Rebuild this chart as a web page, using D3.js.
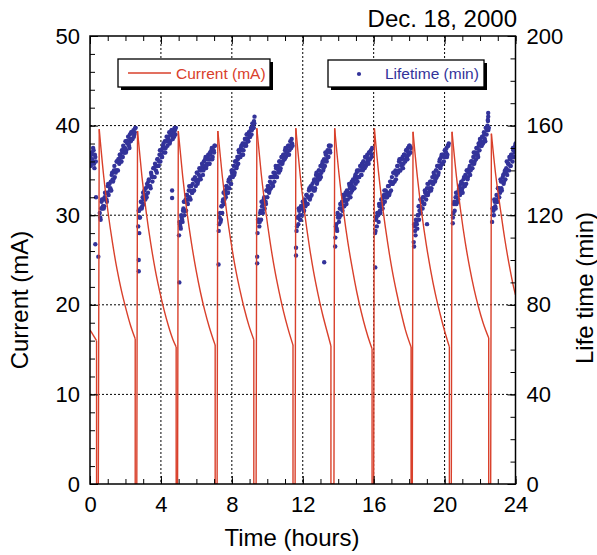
<!DOCTYPE html>
<html>
<head>
<meta charset="utf-8">
<script src="https://cdn.jsdelivr.net/npm/d3@7"></script>
<style>
  body { margin: 0; background: #fff; }
  svg { display: block; }
  text { font-family: "Liberation Sans", Arial, Helvetica, sans-serif; }
</style>
</head>
<body>
<svg id="chart" width="597" height="555"></svg>
<script>
// ---- axis ticks ----
const timeTicks = [0, 4, 8, 12, 16, 20, 24];
const currentTicks = [0, 10, 20, 30, 40, 50];
const lifetimeTicks = [0, 40, 80, 120, 160, 200];

// ---- beam current (mA): dumps, refills and decays ----
const startCurrent = [0, 17.2];                 // [hour, mA] at the left edge
const dumpTime    = [0.37, 2.55, 4.86, 7.06, 9.24, 11.45, 13.59, 15.91, 18.11, 20.27, 22.49];
const dumpCurrent = [16.0, 16.2, 15.3, 15.5, 16.1, 15.5, 15.4, 15.1, 15.3, 15.3, 16.3];
const fillTime    = [0.47, 2.64, 4.94, 7.17, 9.37, 11.57, 13.76, 16.00, 18.18, 20.38, 22.60];
const peakTime    = [0.52, 2.68, 4.98, 7.21, 9.41, 11.61, 13.80, 16.04, 18.22, 20.42, 22.64];
const peakCurrent = [39.6, 39.4, 39.4, 39.4, 39.7, 39.7, 39.7, 39.7, 39.3, 39.3, 39.1];
const decayStep = 0.25;                          // hours between decay readings after each peak
const decay0  = [34.4, 30.3, 26.9, 24.0, 21.6, 19.6, 17.8];
const decay1  = [34.3, 30.2, 26.8, 23.9, 21.5, 19.4, 17.6, 16.1];
const decay2  = [34.3, 30.2, 26.8, 23.9, 21.4, 19.3, 17.5];
const decay3  = [34.4, 30.3, 26.9, 24.0, 21.6, 19.5, 17.7];
const decay4  = [34.6, 30.5, 27.0, 24.0, 21.5, 19.3, 17.4];
const decay5  = [34.4, 30.2, 26.7, 23.7, 21.2, 19.0, 17.1];
const decay6  = [34.5, 30.4, 26.9, 24.0, 21.4, 19.2, 17.3, 15.7];
const decay7  = [34.5, 30.4, 26.9, 23.9, 21.4, 19.2, 17.2];
const decay8  = [34.2, 30.1, 26.7, 23.8, 21.3, 19.2, 17.3];
const decay9  = [34.3, 30.3, 26.9, 24.1, 21.7, 19.7, 18.0];
const decay10 = [34.4, 30.8, 27.4, 24.5, 22.0];
const endCurrent = [24, 21.1];                   // [hour, mA] at the right edge

// ---- beam lifetime (min) ----
// Readings every 3 minutes from the start of each fill; the "b" runs are the
// readings taken 1.5 minutes after those.
const lifeStep = 0.05;
const lifeHalfStep = 0.025;
const lifeStart = [0.00, 0.55, 2.72, 5.02, 7.26, 9.45, 11.65, 13.84, 16.08, 18.26, 20.47, 22.68];
const lifeRunA = [146, 142, 148, 144, 149, 141, 146];
const lifeRun0 = [121, 118, 126, 123, 127, 124, 130, 127, 126, 133, 129, 134, 132, 131, 139, 135, 140, 137, 139, 144, 140, 145, 143, 147, 144, 149, 146, 150, 148, 153, 149, 152, 155, 151, 156, 153, 157, 154, 158, 156, 159];
const lifeRun1 = [115, 122, 119, 126, 123, 128, 125, 131, 127, 129, 134, 130, 136, 133, 132, 138, 135, 141, 137, 143, 140, 139, 145, 142, 147, 144, 149, 146, 151, 148, 153, 150, 155, 151, 154, 157, 153, 156, 158, 154, 157, 159, 156];
const lifeRun2 = [111, 116, 114, 119, 117, 123, 120, 126, 122, 129, 125, 131, 128, 127, 133, 130, 136, 131, 137, 133, 139, 134, 136, 141, 137, 140, 143, 138, 144, 141, 146, 142, 145, 147, 143, 148, 145, 150, 146, 149, 151];
const lifeRun3 = [113, 119, 117, 124, 121, 127, 125, 131, 128, 133, 130, 135, 132, 137, 134, 139, 137, 142, 139, 144, 141, 146, 143, 148, 146, 150, 147, 152, 149, 151, 154, 151, 156, 153, 157, 155, 158, 156, 161, 159];
const lifeRun4 = [112, 117, 115, 121, 118, 124, 121, 127, 123, 126, 131, 128, 133, 130, 135, 132, 137, 134, 139, 135, 138, 141, 137, 142, 139, 144, 141, 146, 143, 147, 145, 149, 146, 150, 147, 151, 149, 153, 150, 152];
const lifeRun5 = [113, 119, 116, 122, 118, 124, 120, 126, 122, 127, 124, 129, 125, 128, 131, 127, 133, 129, 134, 131, 136, 132, 138, 134, 137, 140, 136, 142, 139, 143, 140, 145, 142, 147, 144, 149, 146, 151, 148];
const lifeRun6 = [110, 116, 113, 119, 117, 123, 120, 125, 122, 128, 124, 129, 126, 131, 127, 130, 133, 128, 134, 131, 136, 132, 137, 134, 139, 135, 140, 137, 142, 138, 143, 140, 144, 141, 146, 143, 147, 144, 148, 145, 149, 147];
const lifeRun7 = [112, 118, 115, 121, 117, 124, 121, 127, 123, 125, 129, 126, 131, 128, 130, 133, 129, 135, 131, 137, 134, 139, 135, 140, 138, 142, 139, 144, 140, 145, 142, 146, 143, 147, 144, 149, 146, 150, 147, 151, 148];
const lifeRun8 = [108, 115, 111, 117, 114, 120, 118, 124, 121, 126, 123, 128, 125, 130, 127, 132, 129, 134, 131, 135, 132, 137, 134, 138, 135, 140, 137, 142, 139, 144, 141, 146, 143, 147, 144, 149, 146, 150, 147, 151];
const lifeRun9 = [119, 125, 122, 128, 125, 130, 127, 132, 129, 134, 131, 130, 136, 133, 138, 134, 140, 137, 139, 142, 140, 144, 141, 146, 143, 148, 145, 150, 147, 152, 149, 153, 151, 155, 152, 157, 154, 159, 156, 160, 158];
const lifeRun10 = [117, 123, 120, 126, 123, 129, 126, 132, 128, 130, 135, 131, 137, 134, 139, 136, 141, 138, 143, 140, 145, 142, 147, 144, 149, 146, 151];
const lifeRunAb = [143, 147, 145, 150, 143, 147, 144];
const lifeRun0b = [119, 123, 127, 124, 123, 128, 130, 127, 130, 134, 134, 131, 135, 138, 136, 136, 142, 140, 140, 144, 140, 145, 147, 146, 144, 148, 151, 148, 150, 148, 153, 153, 152, 150, 154, 157, 154, 157, 155, 157, 159];
const lifeRun1b = [122, 119, 123, 126, 124, 130, 127, 129, 132, 128, 133, 135, 133, 133, 139, 137, 137, 141, 137, 142, 142, 145, 142, 144, 149, 147, 146, 150, 152, 150, 148, 153, 153, 155, 153, 152, 156, 158, 155, 156, 155, 158, 159];
const lifeRun2b = [117, 115, 120, 118, 122, 126, 122, 127, 129, 127, 127, 133, 131, 133, 130, 134, 131, 136, 136, 135, 139, 135, 138, 140, 136, 141, 142, 140, 142, 145, 141, 143, 146, 145, 143, 147, 149, 145, 149, 148, 151];
const lifeRun3b = [116, 121, 118, 124, 126, 130, 127, 129, 133, 132, 130, 136, 136, 134, 140, 138, 140, 138, 144, 144, 142, 145, 149, 146, 146, 151, 149, 147, 152, 154, 152, 156, 154, 153, 156, 155, 159, 158, 160, 159];
const lifeRun4b = [118, 118, 117, 122, 126, 122, 125, 128, 126, 125, 131, 133, 132, 131, 137, 134, 137, 133, 137, 139, 142, 137, 141, 140, 144, 140, 143, 146, 144, 147, 145, 150, 148, 148, 151, 147, 151, 151, 154, 151];
const lifeRun5b = [115, 119, 123, 120, 118, 124, 123, 126, 122, 126, 125, 129, 125, 128, 132, 128, 132, 132, 132, 135, 131, 136, 139, 135, 138, 140, 138, 137, 142, 144, 141, 144, 148, 145, 148, 146, 151, 149, 151];
const lifeRun6b = [115, 114, 121, 120, 119, 125, 123, 126, 129, 124, 127, 130, 125, 130, 129, 134, 132, 130, 135, 133, 135, 132, 138, 136, 140, 137, 137, 140, 142, 138, 141, 144, 142, 146, 142, 146, 145, 143, 148, 148, 146, 150];
const lifeRun7b = [113, 119, 121, 120, 125, 122, 125, 127, 123, 128, 131, 128, 129, 128, 133, 133, 130, 135, 134, 134, 139, 135, 139, 136, 139, 142, 140, 145, 140, 143, 145, 141, 147, 147, 145, 149, 145, 148, 151, 148, 150];
const lifeRun8b = [116, 113, 118, 116, 120, 124, 122, 127, 123, 126, 128, 125, 131, 130, 129, 134, 130, 132, 135, 131, 135, 134, 139, 137, 136, 140, 142, 138, 142, 145, 142, 147, 143, 147, 146, 149, 148, 146, 151, 152];
const lifeRun9b = [121, 126, 125, 130, 128, 126, 131, 133, 130, 135, 132, 134, 137, 133, 137, 140, 136, 139, 141, 138, 144, 144, 143, 148, 144, 147, 150, 148, 146, 151, 154, 152, 151, 155, 153, 156, 153, 159, 158, 162, 159];
const lifeRun10b = [123, 122, 127, 124, 127, 126, 132, 132, 131, 136, 132, 135, 138, 135, 140, 139, 144, 140, 143, 146, 142, 147, 146, 150, 149, 148, 152];
// scattered readings away from the main band: [hour, min]
const lifeOutliers = [
  [0.30, 107], [0.34, 128], [0.47, 101.5], [2.75, 100], [2.75, 95], [2.78, 112],
  [4.63, 131], [4.63, 127.7], [5.04, 90], [7.25, 98], [9.25, 162], [9.27, 161],
  [9.28, 164], [9.43, 101.5], [9.43, 98.5], [11.62, 105.5], [11.62, 102], [13.21, 99],
  [13.83, 106], [16.09, 96.7], [18.28, 106], [19.01, 116], [20.46, 116.4],
  [22.44, 162.5], [22.46, 164], [22.46, 165.6]
];

// ---- layout ----
const frame = { left: 90, right: 515.5, top: 36, bottom: 484 };
const red = "#d9402b";
const blue = "#33339a";

const svg = d3.select("#chart");
const x = d3.scaleLinear().domain([0, 24]).range([frame.left, frame.right]);
const yI = d3.scaleLinear().domain([0, 50]).range([frame.bottom, frame.top]);
const yL = d3.scaleLinear().domain([0, 200]).range([frame.bottom, frame.top]);

svg.append("defs").append("clipPath").attr("id", "plot-clip")
  .append("rect")
  .attr("x", frame.left).attr("y", frame.top)
  .attr("width", frame.right - frame.left).attr("height", frame.bottom - frame.top);

// dotted grid
const grid = svg.append("g").attr("stroke", "#000").attr("stroke-width", 1)
  .attr("stroke-dasharray", "2,2");
grid.selectAll("line.gx").data(timeTicks.slice(1, -1)).join("line")
  .attr("x1", d => x(d)).attr("x2", d => x(d))
  .attr("y1", frame.top).attr("y2", frame.bottom);
grid.selectAll("line.gy").data(currentTicks.slice(1, -1)).join("line")
  .attr("y1", d => yI(d)).attr("y2", d => yI(d))
  .attr("x1", frame.left).attr("x2", frame.right);

const plot = svg.append("g").attr("clip-path", "url(#plot-clip)");

// lifetime readings
const runs = [lifeRunA, lifeRun0, lifeRun1, lifeRun2, lifeRun3, lifeRun4, lifeRun5,
              lifeRun6, lifeRun7, lifeRun8, lifeRun9, lifeRun10];
const halfRuns = [lifeRunAb, lifeRun0b, lifeRun1b, lifeRun2b, lifeRun3b, lifeRun4b, lifeRun5b,
                  lifeRun6b, lifeRun7b, lifeRun8b, lifeRun9b, lifeRun10b];
const lifePoints = runs.flatMap((run, r) => run.map((v, i) => [lifeStart[r] + lifeStep * i, v]))
  .concat(halfRuns.flatMap((run, r) => run.map((v, i) => [lifeStart[r] + lifeHalfStep + lifeStep * i, v])))
  .concat(lifeOutliers);
plot.append("g").selectAll("circle").data(lifePoints).join("circle")
  .attr("cx", d => x(d[0])).attr("cy", d => yL(d[1])).attr("r", 2.2)
  .attr("fill", blue);

// beam current
const straight = d3.line().x(d => x(d[0])).y(d => yI(d[1]));
const smooth = d3.line().x(d => x(d[0])).y(d => yI(d[1])).curve(d3.curveMonotoneX);
const decays = [decay0, decay1, decay2, decay3, decay4, decay5, decay6, decay7, decay8, decay9, decay10];
const cur = plot.append("g").attr("fill", "none").attr("stroke", red)
  .attr("stroke-width", 1.4).attr("stroke-linejoin", "round");

cur.append("path").attr("d", straight([startCurrent, [dumpTime[0], dumpCurrent[0]]]));
decays.forEach((dec, k) => {
  // dump to zero, wait, refill to the peak
  cur.append("path").attr("d", straight([
    [dumpTime[k], dumpCurrent[k]], [dumpTime[k], 0],
    [fillTime[k], 0], [peakTime[k], peakCurrent[k]]
  ]));
  const end = k < decays.length - 1 ? [dumpTime[k + 1], dumpCurrent[k + 1]] : endCurrent;
  const pts = [[peakTime[k], peakCurrent[k]]]
    .concat(dec.map((c, j) => [peakTime[k] + decayStep * (j + 1), c]))
    .concat([end]);
  cur.append("path").attr("d", smooth(pts));
});

// axes with inward ticks
const tickFont = "22px";
function styleAxis(g) {
  g.select(".domain").remove();
  g.selectAll(".tick line").attr("stroke", "#000").attr("stroke-width", 1);
  g.selectAll(".tick text").attr("fill", "#000").style("font-size", tickFont)
    .style("font-family", '"Liberation Sans", Arial, sans-serif');
}
const hoursMinor = d3.range(0, 25, 1);
svg.append("g").attr("transform", `translate(0,${frame.bottom})`)
  .call(d3.axisBottom(x).tickValues(hoursMinor).tickSize(-5).tickFormat(""))
  .call(styleAxis);
svg.append("g").attr("transform", `translate(0,${frame.bottom})`)
  .call(d3.axisBottom(x).tickValues(timeTicks).tickSize(-8).tickPadding(12).tickFormat(d3.format("d")))
  .call(styleAxis);
svg.append("g").attr("transform", `translate(0,${frame.top})`)
  .call(d3.axisTop(x).tickValues(hoursMinor).tickSize(-5).tickFormat(""))
  .call(styleAxis);
svg.append("g").attr("transform", `translate(0,${frame.top})`)
  .call(d3.axisTop(x).tickValues(timeTicks).tickSize(-8).tickFormat(""))
  .call(styleAxis);

svg.append("g").attr("transform", `translate(${frame.left},0)`)
  .call(d3.axisLeft(yI).tickValues(d3.range(0, 51, 2)).tickSize(-5).tickFormat(""))
  .call(styleAxis);
svg.append("g").attr("transform", `translate(${frame.left},0)`)
  .call(d3.axisLeft(yI).tickValues(currentTicks).tickSize(-8).tickPadding(10).tickFormat(d3.format("d")))
  .call(styleAxis);
svg.append("g").attr("transform", `translate(${frame.right},0)`)
  .call(d3.axisRight(yL).tickValues(d3.range(0, 201, 10)).tickSize(-5).tickFormat(""))
  .call(styleAxis);
svg.append("g").attr("transform", `translate(${frame.right},0)`)
  .call(d3.axisRight(yL).tickValues(lifetimeTicks).tickSize(-8).tickPadding(11).tickFormat(d3.format("d")))
  .call(styleAxis);

// frame
svg.append("rect")
  .attr("x", frame.left).attr("y", frame.top)
  .attr("width", frame.right - frame.left).attr("height", frame.bottom - frame.top)
  .attr("fill", "none").attr("stroke", "#000").attr("stroke-width", 1.5);

// titles
svg.append("text").attr("x", 517).attr("y", 27).attr("text-anchor", "end")
  .style("font-size", "24px").attr("fill", "#000").text("Dec. 18, 2000");
svg.append("text").attr("x", 292).attr("y", 546).attr("text-anchor", "middle")
  .style("font-size", "24px").attr("fill", "#000").text("Time (hours)");
svg.append("text").attr("transform", "translate(28,300) rotate(-90)").attr("text-anchor", "middle")
  .style("font-size", "24px").attr("fill", "#000").text("Current (mA)");
svg.append("text").attr("transform", "translate(593,288) rotate(-90)").attr("text-anchor", "middle")
  .style("font-size", "24px").attr("fill", "#000").text("Life time (min)");

// legends with drop shadows
function legendBox(bx, by, bw, bh) {
  const g = svg.append("g");
  g.append("rect").attr("x", bx + 3).attr("y", by + 3).attr("width", bw).attr("height", bh).attr("fill", "#000");
  g.append("rect").attr("x", bx).attr("y", by).attr("width", bw).attr("height", bh)
    .attr("fill", "#fff").attr("stroke", "#000").attr("stroke-width", 1.3);
  return g;
}
const lg1 = legendBox(118, 59, 152, 28);
lg1.append("line").attr("x1", 128).attr("x2", 171).attr("y1", 73).attr("y2", 73)
  .attr("stroke", red).attr("stroke-width", 1.3);
lg1.append("text").attr("x", 176).attr("y", 79).style("font-size", "15.5px")
  .attr("fill", red).text("Current (mA)");
const lg2 = legendBox(328, 60, 156, 27);
lg2.append("circle").attr("cx", 359).attr("cy", 74).attr("r", 2.1).attr("fill", blue);
lg2.append("text").attr("x", 385).attr("y", 79).style("font-size", "15.5px")
  .attr("fill", blue).text("Lifetime (min)");
</script>
</body>
</html>
